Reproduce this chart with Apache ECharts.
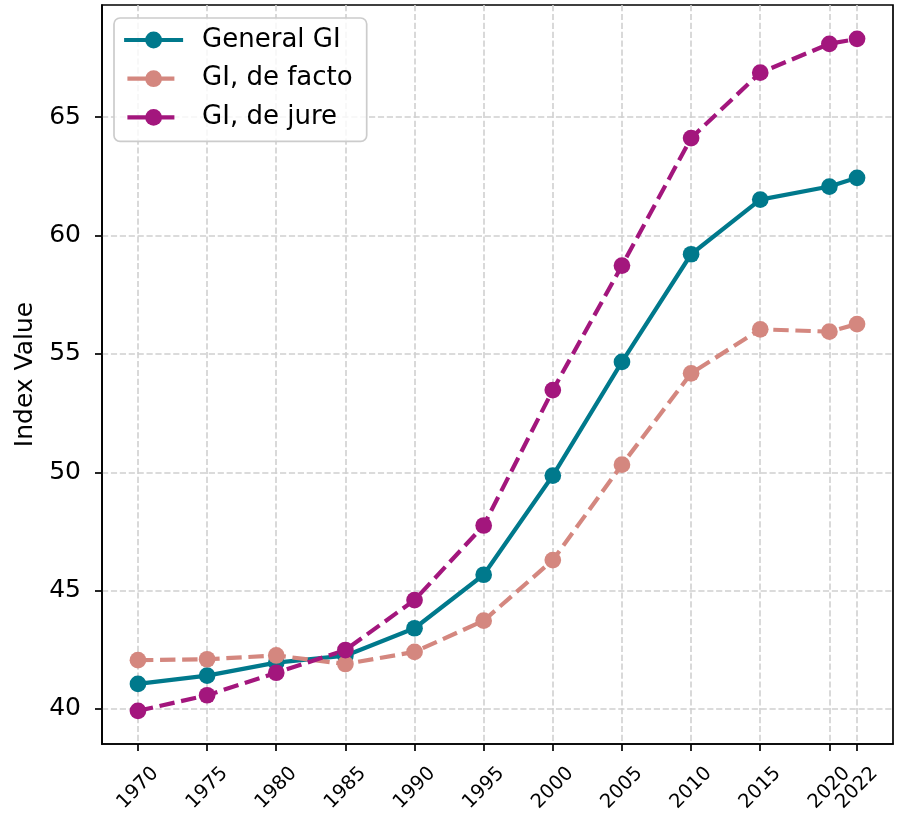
<!DOCTYPE html>
<html><head><meta charset="utf-8">
<script src="https://cdn.jsdelivr.net/npm/echarts@6/dist/echarts.min.js"></script>
<style>html,body{margin:0;padding:0;background:#fff}#c{width:898px;height:816px}</style>
</head><body><div id="c"></div>
<script>
const years = [1970, 1975, 1980, 1985, 1990, 1995, 2000, 2005, 2010, 2015, 2020, 2022];
const generalGI = [41.06, 41.41, 41.96, 42.25, 43.41, 45.67, 49.86, 54.66, 59.21, 61.52, 62.07, 62.44];
const deFactoGI = [42.06, 42.10, 42.26, 41.90, 42.41, 43.73, 46.29, 50.32, 54.18, 56.04, 55.94, 56.26];
const deJureGI = [39.92, 40.58, 41.53, 42.49, 44.60, 47.75, 53.47, 58.73, 64.12, 66.88, 68.10, 68.31];
const yTicks = [40, 45, 50, 55, 60, 65];
const xTicksMain = [1970, 1975, 1980, 1985, 1990, 1995, 2000, 2005, 2010, 2015, 2020];
const xTicksExtra = [2022];
const names = ['General GI', 'GI, de facto', 'GI, de jure'];
const colors = ['#00798c', '#d4877f', '#a3167d'];

const FONT = 'DejaVu Sans';
const pair = arr => years.map((y, i) => [y, arr[i]]);
const dash = [15.4, 6.7];

function mkSeries(name, arr, color, dashed) {
  return {
    name: name, type: 'line', data: pair(arr), xAxisIndex: 0, yAxisIndex: 0,
    symbol: 'circle', symbolSize: 16.7, showSymbol: true,
    lineStyle: { color: color, width: 4.2, type: dashed ? dash : 'solid', cap: 'butt' },
    itemStyle: { color: color, borderWidth: 0 },
    emphasis: { disabled: true }, silent: true
  };
}

const labelStyle = { rotate: 45, align: 'center', verticalAlign: 'middle', margin: 44,
  fontFamily: FONT, fontSize: 19.5, color: '#000', formatter: v => String(v) };

const chart = echarts.init(document.getElementById('c'), null, { renderer: 'canvas' });
chart.setOption({
  animation: false,
  backgroundColor: '#ffffff',
  grid: { left: 102, right: 5, top: 5, bottom: 72, show: true, borderColor: '#000', borderWidth: 1.7, backgroundColor: 'transparent' },
  xAxis: [{
    type: 'value', min: 1967.4, max: 2024.6, position: 'bottom',
    axisLine: { show: true, lineStyle: { color: '#000', width: 1.7 } },
    axisTick: { show: true, length: 7, inside: false, customValues: years, lineStyle: { color: '#000', width: 1.7 } },
    axisLabel: Object.assign({ customValues: xTicksMain }, labelStyle),
    splitLine: { show: true, lineStyle: { color: '#d0d0d0', width: 1.6, type: [6.2, 2.7] } }
  }, {
    type: 'value', min: 1967.4, max: 2024.6, position: 'bottom',
    axisLine: { show: false },
    axisTick: { show: false, customValues: xTicksExtra },
    axisLabel: Object.assign({ customValues: xTicksExtra }, labelStyle),
    splitLine: { show: false }
  }],
  yAxis: {
    type: 'value', min: 38.52, max: 69.74,
    name: 'Index Value', nameLocation: 'middle', nameGap: 64,
    nameTextStyle: { fontFamily: FONT, fontSize: 25, color: '#000' },
    axisLine: { show: true, lineStyle: { color: '#000', width: 1.7 } },
    axisTick: { show: true, length: 7, inside: false, customValues: yTicks, lineStyle: { color: '#000', width: 1.7 } },
    axisLabel: { customValues: yTicks, margin: 21, fontFamily: FONT, fontSize: 25, color: '#000' },
    splitLine: { show: true, lineStyle: { color: '#d0d0d0', width: 1.6, type: [6.2, 2.7] } }
  },
  legend: {
    orient: 'vertical', left: 114, top: 18,
    itemWidth: 59, itemHeight: 21, itemGap: 12.7,
    padding: [9, 14, 11, 8],
    backgroundColor: 'rgba(255,255,255,0.8)', borderColor: '#cccccc', borderWidth: 1.7, borderRadius: 6,
    textStyle: { fontFamily: FONT, fontSize: 26, color: '#000', lineHeight: 26, padding: [0, 0, 0, 14] },
    data: [
      { name: names[0], lineStyle: { type: 'solid', width: 4.2 } },
      { name: names[1], lineStyle: { type: [47, 12], dashOffset: 55.7, width: 4.2 } },
      { name: names[2], lineStyle: { type: [47, 12], dashOffset: 55.7, width: 4.2 } }
    ],
    selectedMode: false
  },
  series: [
    mkSeries(names[0], generalGI, colors[0], false),
    mkSeries(names[1], deFactoGI, colors[1], true),
    mkSeries(names[2], deJureGI, colors[2], true)
  ]
});
</script>
</body></html>
